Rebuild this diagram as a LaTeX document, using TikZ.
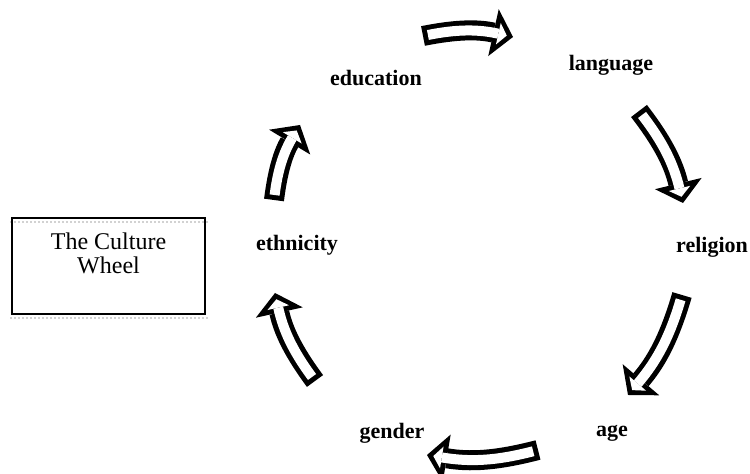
\documentclass[tikz,border=0pt]{standalone}
\usepackage{fontspec}
\setmainfont{Liberation Serif}
\usetikzlibrary{arrows.meta,positioning}

\tikzset{
  spoke/.style={font=\bfseries\fontsize{11}{13}\selectfont},
  blockout/.style={line width=10pt, -{Triangle[length=10pt,width=24pt,line width=0pt]}},
  blockin/.style={white, line width=5pt, shorten <=2.5pt, shorten >=3.2pt,
    -{Triangle[length=4.3pt,width=11pt,line width=0pt]}}
}

\begin{document}
\begin{tikzpicture}[x=0.5pt,y=-0.5pt]
    \useasboundingbox (0,0) rectangle (750,474);

        % Box
        \draw[gray!35, densely dotted, line width=1pt] (10,222) -- (208,222);
        \draw[gray!35, densely dotted, line width=1pt] (10,318) -- (208,318);
        \node (wheelbox) [draw, line width=1pt, minimum width=96.5pt, minimum height=48pt] at (108.5,266) {};
        \node (boxtext) [below=4.5pt of wheelbox.north, align=center, font=\fontsize{12}{12}\selectfont] {The Culture\\Wheel};

        % Nodes
        \node (education) [spoke] at (376,78) {education};
        \node (language) [spoke] at (611,65) {language};
        \node (religion) [spoke] at (712,247) {religion};
        \node (age) [spoke] at (612,433) {age};
        \node (gender) [spoke] at (392,433) {gender};
        \node (ethnicity) [spoke] at (297,245) {ethnicity};

        % Arrow ends
        \coordinate (eduA) at (423,36);   \coordinate (eduB) at (513,37);
        \coordinate (lanA) at (639,111);  \coordinate (lanB) at (683,203);
        \coordinate (relA) at (682,295);  \coordinate (relB) at (628,395);
        \coordinate (ageA) at (538,450);  \coordinate (ageB) at (427,455);
        \coordinate (genA) at (315,381);  \coordinate (genB) at (275,293);
        \coordinate (ethA) at (274,200);  \coordinate (ethB) at (300,125);

        % Arrows
        \foreach \i/\j in {eduA/eduB, lanA/lanB, relA/relB, ageA/ageB, genA/genB, ethA/ethB} {
            \draw[blockout] (\i) to[bend left=12] (\j);
            \draw[blockin] (\i) to[bend left=12] (\j);
        }

    \end{tikzpicture}
\end{document}
